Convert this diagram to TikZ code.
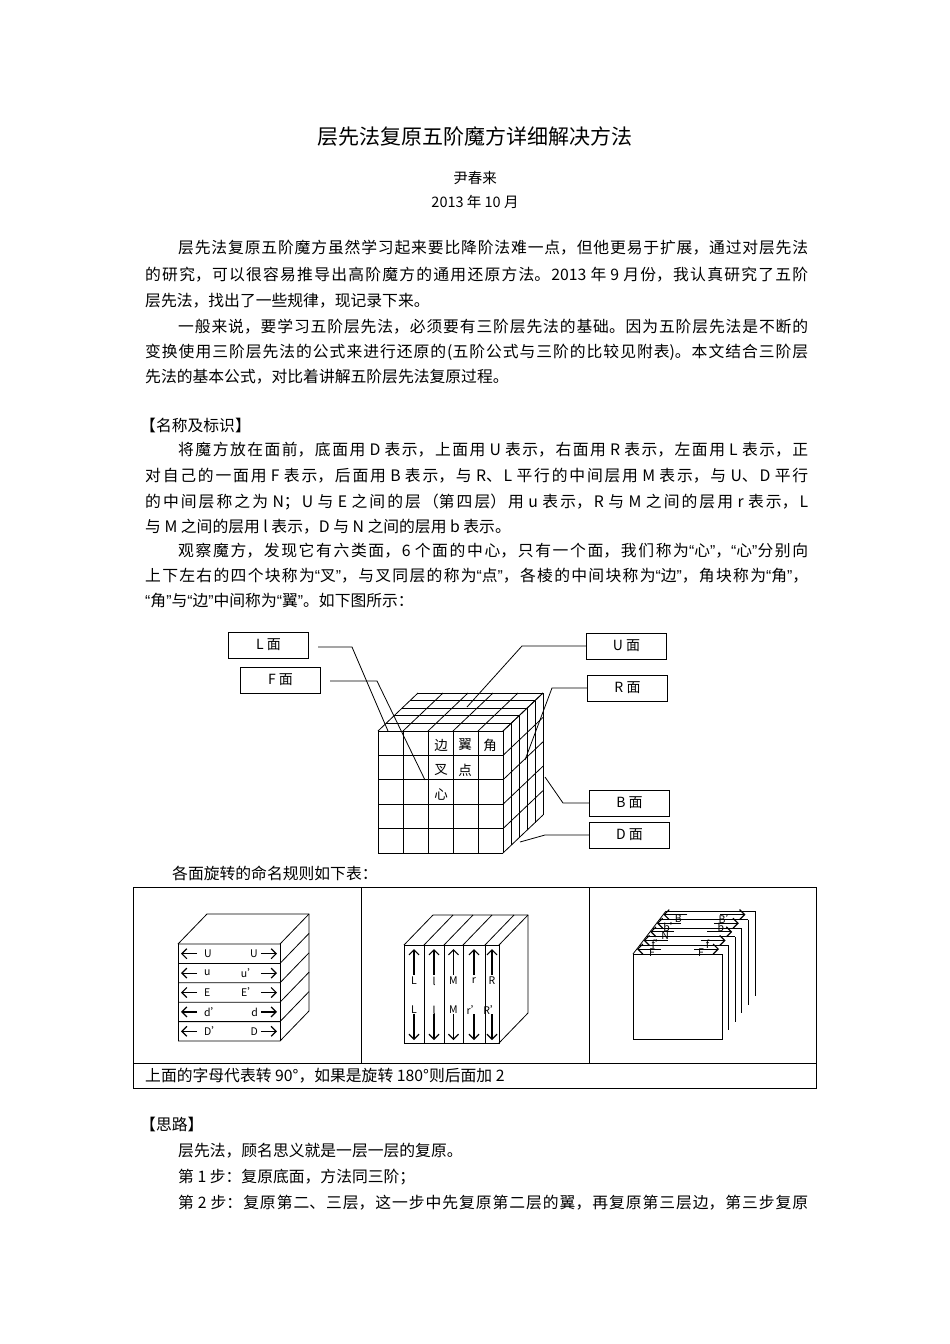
\documentclass[tikz,border=0pt]{standalone}
\usepackage{fontspec}
\setmainfont{Noto Sans CJK SC}
\newfontfamily\lat{Liberation Sans}
\newcommand\myLq{{\lat “}}
\newcommand\myRq{{\lat ”}}
\usetikzlibrary{arrows.meta}
\XeTeXlinebreaklocale "zh"
\XeTeXlinebreakskip=0pt plus 4pt minus 0.3pt
\tikzset{
 jl/.style={anchor=west,inner sep=0pt,align=justify,font=\fontsize{15.8}{18}\selectfont},
 pl/.style={anchor=west,inner sep=0pt,font=\fontsize{15.8}{18}\selectfont},
 lbox/.style={draw,thick,minimum width=80pt,minimum height=26pt,inner sep=0pt,font=\fontsize{14}{16}\selectfont},
 lead/.style={thick},
 cl/.style={font=\fontsize{13.5}{15}\selectfont,inner sep=0pt},
 sl/.style={font=\fontsize{10.5}{12}\selectfont,inner sep=0pt},
 ar/.style={-{Straight Barb[length=5pt,width=10pt,line width=1.2pt]},line width=1.2pt}
}
\newcommand\JL[3]{\node[jl,text width=#2pt] at (#1,#3)}
\begin{document}
\begin{tikzpicture}[x=1pt,y=-1pt]
\useasboundingbox[fill=white] (0,0) rectangle (950,1344);
% title
\node[font=\fontsize{21}{24}\selectfont] (title) at (475,137) {层先法复原五阶魔方详细解决方法};
\node[font=\fontsize{14.5}{17}\selectfont] (auth) at (475,178) {尹春来};
\node[font=\fontsize{14.5}{17}\selectfont] (date) at (475,202) {2013 年 10 月};
% paragraphs
\JL{178}{630}{248} (p1) {\parfillskip=0pt\relax 层先法复原五阶魔方虽然学习起来要比降阶法难一点，但他更易于扩展，通过对层先法\par};
\JL{145}{663}{275} (p2) {\parfillskip=0pt\relax 的研究，可以很容易推导出高阶魔方的通用还原方法。2013 年 9 月份，我认真研究了五阶\par};
\node[pl] (p3) at (145,301) {层先法，找出了一些规律，现记录下来。};
\JL{178}{630}{327} (p4) {\parfillskip=0pt\relax 一般来说，要学习五阶层先法，必须要有三阶层先法的基础。因为五阶层先法是不断的\par};
\JL{145}{663}{352} (p5) {\parfillskip=0pt\relax 变换使用三阶层先法的公式来进行还原的(五阶公式与三阶的比较见附表)。本文结合三阶层\par};
\node[pl] (p6) at (145,377) {先法的基本公式，对比着讲解五阶层先法复原过程。};
\node[pl] (h1) at (140,425) {【名称及标识】};
\JL{178}{630}{450} (p7) {\parfillskip=0pt\relax 将魔方放在面前，底面用 D 表示，上面用 U 表示，右面用 R 表示，左面用 L 表示，正\par};
\JL{145}{663}{476} (p8) {\parfillskip=0pt\relax 对自己的一面用 F 表示，后面用 B 表示，与 R、L 平行的中间层用 M 表示，与 U、D 平行\par};
\JL{145}{663}{502} (p9) {\parfillskip=0pt\relax 的中间层称之为 N；U 与 E 之间的层（第四层）用 u 表示，R 与 M 之间的层用 r 表示，L\par};
\node[pl] (p10) at (145,527) {与 M 之间的层用 l 表示，D 与 N 之间的层用 b 表示。};
\JL{178}{630}{551} (p11) {\parfillskip=0pt\relax 观察魔方，发现它有六类面，6 个面的中心，只有一个面，我们称为\myLq 心\myRq，\myLq 心\myRq 分别向\par};
\JL{145}{663}{576} (p12) {\parfillskip=0pt\relax 上下左右的四个块称为\myLq 叉\myRq，与叉同层的称为\myLq 点\myRq，各棱的中间块称为\myLq 边\myRq，角块称为\myLq 角\myRq，\par};
\node[pl] (p13) at (145,601) {\myLq 角\myRq 与\myLq 边\myRq 中间称为\myLq 翼\myRq。如下图所示：};
% cube
\begin{scope}[thick]
\foreach \i in {0,...,5}{
  \draw (378+25*\i,731) -- (378+25*\i,853);
  \draw (378,731+24.4*\i) -- (503,731+24.4*\i);
  \draw (378+25*\i,731) -- (418+25*\i,693);
  \draw (378+8*\i,731-7.6*\i) -- (503+8*\i,731-7.6*\i);
  \draw (503+8*\i,731-7.6*\i) -- (503+8*\i,853-7.6*\i);
  \draw (503,731+24.4*\i) -- (543,693+24.4*\i);
}
\end{scope}
\node[cl] (bian) at (441,745) {边};
\node[cl] (yi) at (465,745) {翼};
\node[cl] (jiao) at (490,745) {角};
\node[cl] (cha) at (441,770) {叉};
\node[cl] (dian) at (465,770) {点};
\node[cl] (xin) at (441,794) {心};
\node[lbox] (Lb) at (268.5,645) {L 面};
\node[lbox] (Fb) at (280.5,680) {F 面};
\node[lbox] (Ub) at (626.5,646) {U 面};
\node[lbox] (Rb) at (627.5,688) {R 面};
\node[lbox] (Bb) at (629.5,803) {B 面};
\node[lbox] (Db) at (629.5,835) {D 面};
\coordinate (tL) at (388,731); \coordinate (tF) at (425,780);
\coordinate (tU) at (467,707); \coordinate (tR) at (525,760);
\coordinate (tB) at (545,777); \coordinate (tD) at (520,842);
\draw[lead] (318,647) -- (352,647) -- (tL);
\draw[lead] (330,681) -- (377,681) -- (tF);
\draw[lead] (Ub.west) -- (522,646) -- (tU);
\draw[lead] (Rb.west) -- (552,688) -- (tR);
\draw[lead] (Bb.west) -- (563,803) -- (tB);
\draw[lead] (Db.west) -- (545,835) -- (tD);
\node[pl] (cap) at (172,873) {各面旋转的命名规则如下表：};
% table
\draw[thick] (133,887) rectangle (816,1088);
\draw[thick] (133,1063) -- (816,1063);
\draw[thick] (361,887) -- (361,1063);
\draw[thick] (589,887) -- (589,1063);
\node[pl] (note) at (145,1076) {上面的字母代表转 90°，如果是旋转 180°则后面加 2};
% cell 1
\begin{scope}[thick]
\foreach \i in {0,...,5}{
  \draw (178,944+19.4*\i) -- (280,944+19.4*\i) -- (309,914+19.4*\i);
}
\draw (178,944) -- (178,1041);
\draw (280,944) -- (280,1041);
\draw (178,944) -- (207,914) -- (309,914) -- (309,1011);
\end{scope}
\foreach \i/\a/\b in {0/U/U,1/u/u',2/E/E',3/d'/d,4/D'/D}{
  \draw[ar] (197,953.7+19.4*\i) -- (181,953.7+19.4*\i);
  \node[sl,anchor=west] (la\i) at (204,953.7+19.4*\i) {\a};
  \node[sl,anchor=east] (ra\i) at (258,953.7+19.4*\i) {\b};
  \draw[ar] (261,953.7+19.4*\i) -- (277,953.7+19.4*\i);
}
% cell 2
\begin{scope}[thick]
\draw (404,945) rectangle (499,1043);
\foreach \x in {404,424,444,463,485,499}{ \draw (\x,945) -- (\x,1043); \draw (\x,945) -- (\x+29,915); }
\draw (433,915) -- (528,915) -- (528,1013) -- (499,1043);
\end{scope}
\foreach \c/\a/\b in {414/L/L,434/l/l,453.5/M/M,474/r/r',492/R/R'}{
  \draw[ar] (\c,975) -- (\c,949);
  \node[sl] at (\c,981) {\a};
  \node[sl] at (\c,1010) {\b};
  \draw[ar] (\c,1014) -- (\c,1040);
}
% cell 3
\begin{scope}[thick]
\draw (633,954) rectangle (722,1039);
\foreach \i in {0,...,5}{
  \draw (633+6.6*\i,954-8.6*\i) -- (722+6.6*\i,954-8.6*\i);
  \draw (722+6.6*\i,954-8.6*\i) -- (722+6.6*\i,1039-8.6*\i);
}
\draw (633,954) -- (666,911);
\end{scope}
\foreach \i/\a/\b in {0/F/F,1/f'/f,2/N/{},3/b'/b,4/B/B'}{
  \draw[ar,line width=1pt] (661+6.6*\i,949-8.6*\i) -- (637+6.6*\i,949-8.6*\i);
  \draw[ar,line width=1pt] (694+6.6*\i,949-8.6*\i) -- (719+6.6*\i,949-8.6*\i);
  \node[sl] at (652+6.6*\i,953-8.6*\i) {\a};
  \node[sl] at (701+6.6*\i,953-8.6*\i) {\b};
}
% after table
\node[pl] (h2) at (140,1124) {【思路】};
\node[pl] (q1) at (178,1151) {层先法，顾名思义就是一层一层的复原。};
\node[pl] (q2) at (178,1177) {第 1 步：复原底面，方法同三阶；};
\JL{178}{630}{1203} (q3) {\parfillskip=0pt\relax 第 2 步：复原第二、三层，这一步中先复原第二层的翼，再复原第三层边，第三步复原\par};
\end{tikzpicture}
\end{document}
